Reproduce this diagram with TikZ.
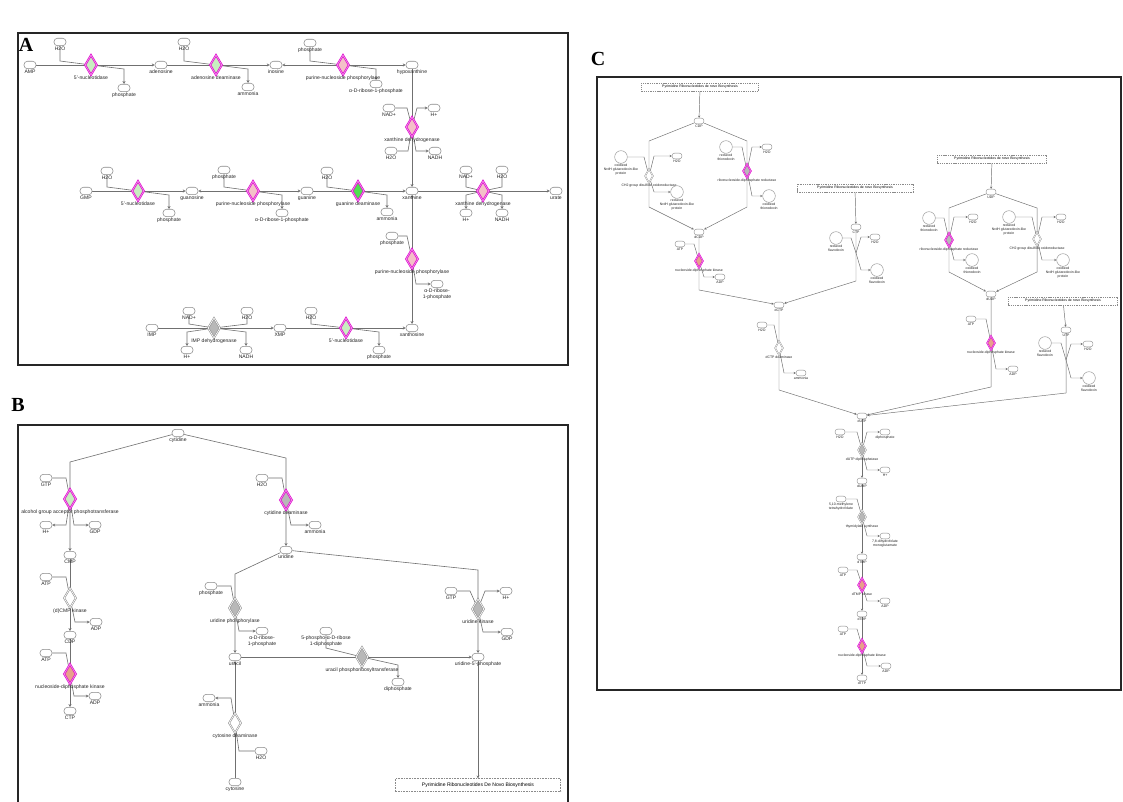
\documentclass[tikz,border=0pt]{standalone}
\usepackage{fontspec}
\setmainfont{Liberation Sans}
\newfontfamily\serifb{Liberation Serif}
\usetikzlibrary{arrows.meta,shapes.geometric}
\pgfdeclarelayer{bg}
\pgfsetlayers{bg,main}
\definecolor{lg}{HTML}{707070}
\definecolor{ng}{HTML}{8A8A8A}
\definecolor{mag}{HTML}{E010D0}
\definecolor{magl}{HTML}{F4A0EC}
\definecolor{lgreen}{HTML}{C8EEC0}
\definecolor{pinkc}{HTML}{F4C0C8}
\definecolor{greenc}{HTML}{50E050}
\definecolor{salmon}{HTML}{E8A08C}
\definecolor{egray}{HTML}{B8B8B8}
\newcommand\N[5]{\node[#1,label={[lab]below:{#5}}] (#2) at (#3,#4) {};}
\newcommand\Nc[5]{\node[#1,label={[labc]below:{#5}}] (#2) at (#3,#4) {};}
\tikzset{
  lab/.style={font=\fontsize{3.8}{4.3}\selectfont, inner sep=0.4pt, align=center, text=black!85},
  labc/.style={font=\fontsize{2.6}{3}\selectfont, inner sep=0.3pt, align=center, text=black!85},
  met/.style={draw=ng, fill=white, line width=0.4pt, rounded corners=2.6pt, minimum width=9pt, minimum height=5.6pt, inner sep=0pt, label distance=0.2pt},
  metc/.style={draw=ng, fill=white, line width=0.3pt, rounded corners=2.1pt, minimum width=7.5pt, minimum height=4.4pt, inner sep=0pt, label distance=0.1pt},
  circc/.style={circle, draw=ng, fill=white, line width=0.3pt, minimum size=9.5pt, inner sep=0pt, label distance=0.1pt},
  enzbase/.style={diamond, minimum width=9pt, minimum height=15pt, inner sep=0pt, label distance=0pt},
  enzmag/.style={enzbase, draw=mag, line width=0.55pt, double=magl, double distance=0.4pt},
  enzgr/.style={enzbase, draw=ng, line width=0.4pt, double=white, double distance=0.5pt},
  enzL/.style={enzmag, fill=lgreen},
  enzP/.style={enzmag, fill=pinkc},
  enzG/.style={enzmag, fill=greenc},
  enzS/.style={enzmag, fill=salmon},
  enzM/.style={enzmag, fill=egray},
  enzX/.style={enzgr, fill=egray},
  enzW/.style={enzgr, fill=white},
  enzcbase/.style={diamond, minimum width=6pt, minimum height=10.5pt, inner sep=0pt, label distance=0pt},
  enzMc/.style={enzcbase, draw=mag, line width=0.45pt, double=magl, double distance=0.3pt, fill=egray},
  enzSc/.style={enzcbase, draw=mag, line width=0.45pt, double=magl, double distance=0.3pt, fill=salmon},
  enzXc/.style={enzcbase, draw=ng, line width=0.3pt, double=white, double distance=0.4pt, fill=egray},
  enzWc/.style={enzcbase, draw=ng, line width=0.3pt, double=white, double distance=0.4pt, fill=white},
  boxp/.style={draw=ng, dash pattern=on 1.2pt off 0.8pt, line width=0.4pt, fill=white, minimum width=124pt, minimum height=9.5pt, inner sep=0pt, font=\fontsize{3.8}{4.3}\selectfont},
  boxpc/.style={draw=ng, dash pattern=on 1pt off 0.7pt, line width=0.3pt, fill=white, minimum height=6.3pt, inner sep=0pt, font=\fontsize{2.6}{3}\selectfont},
  ln/.style={draw=lg, line width=0.45pt},
  lnc/.style={draw=lg, line width=0.35pt},
  ar/.style={-{Stealth[length=2.2pt,width=2.2pt]}},
  ar2/.style={{Stealth[length=2.2pt,width=2.2pt]}-{Stealth[length=2.2pt,width=2.2pt]}},
  arc/.style={-{Stealth[length=1.7pt,width=1.7pt]}},
  frame/.style={draw=black!85, line width=0.9pt},
  plab/.style={font=\serifb\bfseries\fontsize{15}{15}\selectfont, inner sep=0pt}
}
\begin{document}
\begin{tikzpicture}[x=0.75pt,y=-0.75pt]
\begin{pgfonlayer}{bg}
\fill[white] (0,0) rectangle (1123,802);
\end{pgfonlayer}
\path[use as bounding box] (0,0) rectangle (1123,802);
% frames
\draw[frame] (18,33) rectangle (568,365);
\draw[frame] (18,802) -- (18,425) -- (568,425) -- (568,802);
\draw[frame] (597,77) rectangle (1121,690);
\node[plab] (pA) at (26,45) {A};
\node[plab] (pB) at (18,405) {B};
\node[plab] (pC) at (598,59) {C};

% ================= Panel A =================
\N{met}{aAMP}{30}{65}{AMP}
\N{met}{aH1}{60}{42}{H2O}
\N{enzL}{eA1}{91}{65}{5'-nucleotidase}
\N{met}{aP1}{124}{88}{phosphate}
\N{met}{aAdo}{161}{65}{adenosine}
\N{met}{aH2}{184}{42}{H2O}
\N{enzL}{eA2}{216}{65}{adenosine deaminase}
\N{met}{aNH1}{248}{87}{ammonia}
\N{met}{aIno}{276}{65}{inosine}
\N{met}{aP2}{310}{43}{phosphate}
\N{enzP}{eA3}{343}{65}{purine-nucleoside phosphorylase}
\N{met}{aR1}{376}{84}{α-D-ribose-1-phosphate}
\N{met}{aHyp}{412}{65}{hypoxanthine}
\N{met}{aNAD1}{389}{108}{NAD+}
\N{met}{aHp1}{434}{108}{H+}
\N{enzP}{eA4}{412}{127}{xanthine dehydrogenase}
\N{met}{aH3}{391}{151}{H2O}
\N{met}{aNADH1}{435}{151}{NADH}
\N{met}{aXan}{412}{191}{xanthine}
\N{met}{aGMP}{86}{191}{GMP}
\N{met}{aH4}{107}{171}{H2O}
\N{enzL}{eA5}{138}{191}{5'-nucleotidase}
\N{met}{aP3}{169}{213}{phosphate}
\N{met}{aGuo}{192}{191}{guanosine}
\N{met}{aP4}{224}{170}{phosphate}
\N{enzP}{eA6}{253}{191}{purine-nucleoside phosphorylase}
\N{met}{aR2}{282}{213}{α-D-ribose-1-phosphate}
\N{met}{aGua}{307}{191}{guanine}
\N{met}{aH5}{327}{171}{H2O}
\N{enzG}{eA7}{358}{191}{guanine deaminase}
\N{met}{aNH2}{387}{212}{ammonia}
\N{met}{aNAD2}{466}{170}{NAD+}
\N{met}{aH6}{502}{170}{H2O}
\N{enzP}{eA8}{483}{191}{xanthine dehydrogenase}
\N{met}{aHp2}{466}{213}{H+}
\N{met}{aNADH2}{502}{213}{NADH}
\N{met}{aUra}{556}{191}{urate}
\N{met}{aP5}{392}{236}{phosphate}
\N{enzP}{eA9}{412}{259}{purine-nucleoside phosphorylase}
\N{met}{aR3}{437}{284}{α-D-ribose-\\1-phosphate}
\N{met}{aXao}{412}{328}{xanthosine}
\N{met}{aH7}{311}{311}{H2O}
\N{enzL}{eA10}{346}{328}{5'-nucleotidase}
\N{met}{aP6}{379}{350}{phosphate}
\N{met}{aXMP}{280}{328}{XMP}
\N{met}{aIMP}{152}{328}{IMP}
\N{met}{aNAD3}{189}{311}{NAD+}
\N{met}{aH8}{247}{311}{H2O}
\N{enzX}{eA11}{214}{328}{IMP dehydrogenase}
\N{met}{aHp3}{187}{350}{H+}
\N{met}{aNADH3}{246}{350}{NADH}

% ================= Panel B =================
\N{met}{bCyd}{178}{433}{cytidine}
\N{met}{bGTP1}{46}{478}{GTP}
\N{enzL}{eB1}{70}{499}{alcohol group acceptor phosphotransferase}
\N{met}{bHp1}{46}{525}{H+}
\N{met}{bGDP1}{95}{525}{GDP}
\N{met}{bCMP}{70}{555}{CMP}
\N{met}{bATP1}{46}{577}{ATP}
\N{enzW}{eB2}{70}{598}{(d)CMP kinase}
\N{met}{bADP1}{96}{622}{ADP}
\N{met}{bCDP}{70}{635}{CDP}
\N{met}{bATP2}{46}{653}{ATP}
\N{enzS}{eB3}{70}{674}{nucleoside-diphosphate kinase}
\N{met}{bADP2}{95}{696}{ADP}
\N{met}{bCTP}{70}{711}{CTP}
\N{met}{bH1}{262}{478}{H2O}
\N{enzM}{eB4}{286}{500}{cytidine deaminase}
\N{met}{bNH1}{315}{525}{ammonia}
\N{met}{bUrd}{286}{550}{uridine}
\N{met}{bP1}{211}{586}{phosphate}
\N{enzX}{eB5}{235}{608}{uridine phosphorylase}
\N{met}{bR1}{262}{631}{α-D-ribose-\\1-phosphate}
\N{met}{bUra}{235}{657}{uracil}
\N{met}{bPRPP}{326}{631}{5-phospho-α-D-ribose\\1-diphosphate}
\N{enzX}{eB6}{362}{657}{uracil phosphoribosyltransferase}
\N{met}{bPPi}{398}{682}{diphosphate}
\N{met}{bGTP2}{451}{591}{GTP}
\N{met}{bHp2}{506}{591}{H+}
\N{enzX}{eB7}{478}{609}{uridine kinase}
\N{met}{bGDP2}{507}{632}{GDP}
\N{met}{bUMP}{478}{657}{uridine-5'-phosphate}
\node[boxp] (bBox) at (478,785) {Pyrimidine Ribonucleotides De Novo Biosynthesis};
\N{met}{bNH2}{209}{698}{ammonia}
\N{enzW}{eB8}{235}{723}{cytosine deaminase}
\N{met}{bH2}{261}{751}{H2O}
\N{met}{bCyt}{235}{782}{cytosine}

% ================= Panel C =================
\node[boxpc, minimum width=88pt] (cBox1) at (700,87) {Pyrimidine Ribonucleotides de novo Biosynthesis};
\Nc{metc}{cCDP}{699}{121}{CDP}
\Nc{enzWc}{eC1}{649}{176}{CH2 group disulfide oxidoreductase}
\Nc{circc}{cOxN1}{621}{157}{oxidized\\NrdH glutaredoxin-like\\protein}
\Nc{metc}{cH1}{677}{156}{H2O}
\Nc{circc}{cRedN1}{677}{192}{reduced\\NrdH glutaredoxin-like\\protein}
\Nc{enzMc}{eC2}{747}{171}{ribonucleoside-diphosphate reductase}
\Nc{circc}{cRedT1}{726}{147}{reduced\\thioredoxin}
\Nc{metc}{cH2}{767}{147}{H2O}
\Nc{circc}{cOxT1}{769}{196}{oxidized\\thioredoxin}
\Nc{metc}{cdCDP}{699}{232}{dCDP}
\Nc{metc}{cATP1}{680}{244}{ATP}
\Nc{enzSc}{eC3}{699}{261}{nucleoside-diphosphate kinase}
\Nc{metc}{cADP1}{720}{277}{ADP}
\node[boxpc, minimum width=87pt] (cBox2) at (855,188) {Pyrimidine Ribonucleotides de novo Biosynthesis};
\Nc{metc}{cCTP}{856}{227}{CTP}
\Nc{circc}{cRedF1}{836}{238}{reduced\\flavodoxin}
\Nc{metc}{cH3}{875}{237}{H2O}
\Nc{circc}{cOxF1}{877}{270}{oxidized\\flavodoxin}
\coordinate (jC1) at (856,253);
\Nc{metc}{cdCTP}{779}{305}{dCTP}
\Nc{metc}{cH4}{762}{325}{H2O}
\Nc{enzWc}{eC4}{779}{348}{dCTP deaminase}
\Nc{metc}{cNH1}{801}{373}{ammonia}
\node[boxpc, minimum width=82pt] (cBox3) at (992,159) {Pyrimidine Ribonucleotides de novo Biosynthesis};
\Nc{metc}{cUDP}{991}{192}{UDP}
\Nc{enzMc}{eC5}{949}{240}{ribonucleoside-diphosphate reductase}
\Nc{circc}{cRedT2}{929}{218}{reduced\\thioredoxin}
\Nc{metc}{cH5}{973}{217}{H2O}
\Nc{circc}{cOxT2}{972}{260}{oxidized\\thioredoxin}
\Nc{enzWc}{eC6}{1037}{239}{CH2 group disulfide oxidoreductase}
\Nc{circc}{cRedN2}{1009}{217}{reduced\\NrdH glutaredoxin-like\\protein}
\Nc{metc}{cH6}{1061}{217}{H2O}
\Nc{circc}{cOxN2}{1063}{260}{oxidized\\NrdH glutaredoxin-like\\protein}
\Nc{metc}{cdUDP}{991}{294}{dUDP}
\Nc{metc}{cATP2}{971}{319}{ATP}
\Nc{enzSc}{eC7}{991}{343}{nucleoside-diphosphate kinase}
\Nc{metc}{cADP2}{1013}{369}{ADP}
\node[boxpc, minimum width=82pt] (cBox4) at (1063,301) {Pyrimidine Ribonucleotides de novo Biosynthesis};
\Nc{metc}{cUTP}{1066}{330}{UTP}
\Nc{circc}{cRedF2}{1045}{343}{reduced\\flavodoxin}
\Nc{metc}{cH7}{1088}{344}{H2O}
\Nc{circc}{cOxF2}{1089}{378}{oxidized\\flavodoxin}
\coordinate (jC2) at (1066,360);
\Nc{metc}{cdUTP}{862}{416}{dUTP}
\Nc{metc}{cH8}{840}{432}{H2O}
\Nc{metc}{cPPi}{885}{432}{diphosphate}
\Nc{enzXc}{eC8}{862}{450}{dUTP diphosphatase}
\Nc{metc}{cHp}{885}{470}{H+}
\Nc{metc}{cdUMP}{862}{481}{dUMP}
\Nc{metc}{cMTHF}{841}{499}{5,10-methylene\\tetrahydrofolate}
\Nc{enzXc}{eC9}{862}{517}{thymidylate synthase}
\Nc{metc}{cDHF}{885}{536}{7,8-dihydrofolate\\monoglutamate}
\Nc{metc}{cdTMP}{862}{557}{dTMP}
\Nc{metc}{cATP3}{843}{570}{ATP}
\Nc{enzSc}{eC10}{862}{585}{dTMP kinase}
\Nc{metc}{cADP3}{885}{601}{ADP}
\Nc{metc}{cdTDP}{862}{614}{dTDP}
\Nc{metc}{cATP4}{843}{629}{ATP}
\Nc{enzSc}{eC11}{862}{646}{nucleoside-diphosphate kinase}
\Nc{metc}{cADP4}{886}{666}{ADP}
\Nc{metc}{cdTTP}{862}{678}{dTTP}

\begin{pgfonlayer}{bg}
% ---- Panel A connectors
\draw[ln,ar] (aAMP) -- (aAdo);
\draw[ln] (aH1) -- ++(0,19) -- (eA1.center);
\draw[ln,ar] (eA1.center) -- ++(33,4) -- (aP1);
\draw[ln,ar] (aAdo) -- (aIno);
\draw[ln] (aH2) -- ++(0,19) -- (eA2.center);
\draw[ln,ar] (eA2.center) -- ++(32,4) -- (aNH1);
\draw[ln,ar2] (aIno) -- (aHyp);
\draw[ln] (aP2) -- ++(0,18) -- (eA3.center);
\draw[ln,ar] (eA3.center) -- ++(33,4) -- (aR1);
\draw[ln,ar] (aHyp) -- (aXan);
\draw[ln] (aNAD1) -- ++(18,0) -- (eA4.center);
\draw[ln,ar] (eA4.center) -- ++(5,-19) -- (aHp1);
\draw[ln] (aH3) -- ++(17,0) -- (eA4.center);
\draw[ln,ar] (eA4.center) -- ++(4,24) -- (aNADH1);
\draw[ln,ar] (aGMP) -- (aGuo);
\draw[ln] (aH4) -- ++(0,16) -- (eA5.center);
\draw[ln,ar] (eA5.center) -- ++(31,4) -- (aP3);
\draw[ln,ar2] (aGuo) -- (aGua);
\draw[ln] (aP4) -- ++(0,17) -- (eA6.center);
\draw[ln,ar] (eA6.center) -- ++(29,4) -- (aR2);
\draw[ln,ar] (aGua) -- (aXan);
\draw[ln] (aH5) -- ++(0,16) -- (eA7.center);
\draw[ln,ar] (eA7.center) -- ++(29,4) -- (aNH2);
\draw[ln,ar] (aXan) -- (aUra);
\draw[ln] (aNAD2) -- ++(0,17) -- (eA8.center);
\draw[ln] (aH6) -- ++(0,17) -- (eA8.center);
\draw[ln,ar] (eA8.center) -- ++(-17,4) -- (aHp2);
\draw[ln,ar] (eA8.center) -- ++(19,4) -- (aNADH2);
\draw[ln,ar2] (aXao) -- (aXan);
\draw[ln] (aP5) -- ++(15,0) -- (eA9.center);
\draw[ln,ar] (eA9.center) -- ++(4,25) -- (aR3);
\draw[ln,ar] (aXMP) -- (aXao);
\draw[ln] (aH7) -- ++(0,13) -- (eA10.center);
\draw[ln,ar] (eA10.center) -- ++(33,4) -- (aP6);
\draw[ln,ar] (aIMP) -- (aXMP);
\draw[ln] (aNAD3) -- ++(0,13) -- (eA11.center);
\draw[ln] (aH8) -- ++(0,13) -- (eA11.center);
\draw[ln,ar] (eA11.center) -- ++(-27,4) -- (aHp3);
\draw[ln,ar] (eA11.center) -- ++(32,4) -- (aNADH3);
% ---- Panel B connectors
\draw[ln,ar] (bCyd) -- ++(-108,29) -- (bCMP);
\draw[ln] (bGTP1) -- ++(20,0) -- (eB1.center);
\draw[ln,ar] (eB1.center) -- ++(-4,26) -- (bHp1);
\draw[ln,ar] (eB1.center) -- ++(4,26) -- (bGDP1);
\draw[ln,ar] (bCMP) -- (bCDP);
\draw[ln] (bATP1) -- ++(20,0) -- (eB2.center);
\draw[ln,ar] (eB2.center) -- ++(5,24) -- (bADP1);
\draw[ln,ar] (bCDP) -- (bCTP);
\draw[ln] (bATP2) -- ++(20,0) -- (eB3.center);
\draw[ln,ar] (eB3.center) -- ++(4,22) -- (bADP2);
\draw[ln,ar] (bCyd) -- ++(108,25) -- (bUrd);
\draw[ln] (bH1) -- ++(20,0) -- (eB4.center);
\draw[ln,ar] (eB4.center) -- ++(5,25) -- (bNH1);
\draw[ln,ar] (bUrd) -- ++(192,20) -- (bUMP);
\draw[ln] (bGTP2) -- ++(19,0) -- (eB7.center);
\draw[ln,ar] (eB7.center) -- ++(7,-18) -- (bHp2);
\draw[ln,ar] (eB7.center) -- ++(5,23) -- (bGDP2);
\draw[ln,ar] (bUrd) -- ++(-51,24) -- (bUra);
\draw[ln] (bP1) -- ++(20,0) -- (eB5.center);
\draw[ln,ar] (eB5.center) -- ++(4,23) -- (bR1);
\draw[ln,ar] (bUra) -- (bUMP);
\draw[ln] (bPRPP) -- ++(0,17) -- (eB6.center);
\draw[ln,ar] (eB6.center) -- ++(36,8) -- (bPPi);
\draw[ln,ar] (bUMP) -- (bBox);
\draw[ln,ar] (bCyt) -- (bUra);
\draw[ln] (bH2) -- ++(-22,0) -- (eB8.center);
\draw[ln,ar] (eB8.center) -- ++(-4,-25) -- (bNH2);
% ---- Panel C connectors
\draw[lnc,arc] (cBox1) -- (cCDP);
\draw[lnc,arc] (cCDP) -- ++(-50,20) -- ++(0,66) -- (cdCDP);
\draw[lnc,arc] (cCDP) -- ++(48,20) -- ++(0,66) -- (cdCDP);
\draw[lnc] (cOxN1) -- ++(23,0) -- (eC1.center);
\draw[lnc,arc] (eC1.center) -- ++(5,-20) -- (cH1);
\draw[lnc,arc] (eC1.center) -- ++(5,16) -- (cRedN1);
\draw[lnc] (cRedT1) -- ++(16,0) -- (eC2.center);
\draw[lnc,arc] (eC2.center) -- ++(5,-24) -- (cH2);
\draw[lnc,arc] (eC2.center) -- ++(5,25) -- (cOxT1);
\draw[lnc,arc] (cdCDP) -- ++(0,58) -- (cdCTP);
\draw[lnc] (cATP1) -- ++(14,0) -- (eC3.center);
\draw[lnc,arc] (eC3.center) -- ++(5,16) -- (cADP1);
\draw[lnc,arc] (cBox2) -- (cCTP);
\draw[lnc,arc] (cCTP) -- ++(0,54) -- (cdCTP);
\draw[lnc] (cRedF1) -- ++(15,0) -- (jC1);
\draw[lnc,arc] (jC1) -- ++(5,-16) -- (cH3);
\draw[lnc,arc] (jC1) -- ++(5,17) -- (cOxF1);
\draw[lnc,arc] (cdCTP) -- ++(0,85) -- (cdUTP);
\draw[lnc] (cH4) -- ++(12,0) -- (eC4.center);
\draw[lnc,arc] (eC4.center) -- ++(5,25) -- (cNH1);
\draw[lnc,arc] (cBox3) -- (cUDP);
\draw[lnc,arc] (cUDP) -- ++(-42,16) -- ++(0,64) -- (cdUDP);
\draw[lnc,arc] (cUDP) -- ++(46,16) -- ++(0,64) -- (cdUDP);
\draw[lnc] (cRedT2) -- ++(15,0) -- (eC5.center);
\draw[lnc,arc] (eC5.center) -- ++(5,-23) -- (cH5);
\draw[lnc,arc] (eC5.center) -- ++(5,20) -- (cOxT2);
\draw[lnc] (cRedN2) -- ++(23,0) -- (eC6.center);
\draw[lnc,arc] (eC6.center) -- ++(5,-22) -- (cH6);
\draw[lnc,arc] (eC6.center) -- ++(5,21) -- (cOxN2);
\draw[lnc,arc] (cdUDP) -- ++(0,93) -- (cdUTP);
\draw[lnc] (cATP2) -- ++(15,0) -- (eC7.center);
\draw[lnc,arc] (eC7.center) -- ++(5,26) -- (cADP2);
\draw[lnc,arc] (cBox4) -- (cUTP);
\draw[lnc,arc] (cUTP) -- ++(0,63) -- (cdUTP);
\draw[lnc] (cRedF2) -- ++(16,0) -- (jC2);
\draw[lnc,arc] (jC2) -- ++(5,-16) -- (cH7);
\draw[lnc,arc] (jC2) -- ++(5,18) -- (cOxF2);
\draw[lnc,arc] (cdUTP) -- (cdUMP);
\draw[lnc] (cH8) -- ++(17,0) -- (eC8.center);
\draw[lnc,arc] (eC8.center) -- ++(5,-18) -- (cPPi);
\draw[lnc,arc] (eC8.center) -- ++(5,20) -- (cHp);
\draw[lnc,arc] (cdUMP) -- (cdTMP);
\draw[lnc] (cMTHF) -- ++(16,0) -- (eC9.center);
\draw[lnc,arc] (eC9.center) -- ++(5,19) -- (cDHF);
\draw[lnc,arc] (cdTMP) -- (cdTDP);
\draw[lnc] (cATP3) -- ++(14,0) -- (eC10.center);
\draw[lnc,arc] (eC10.center) -- ++(5,16) -- (cADP3);
\draw[lnc,arc] (cdTDP) -- (cdTTP);
\draw[lnc] (cATP4) -- ++(14,0) -- (eC11.center);
\draw[lnc,arc] (eC11.center) -- ++(5,20) -- (cADP4);
\end{pgfonlayer}
\end{tikzpicture}
\end{document}
